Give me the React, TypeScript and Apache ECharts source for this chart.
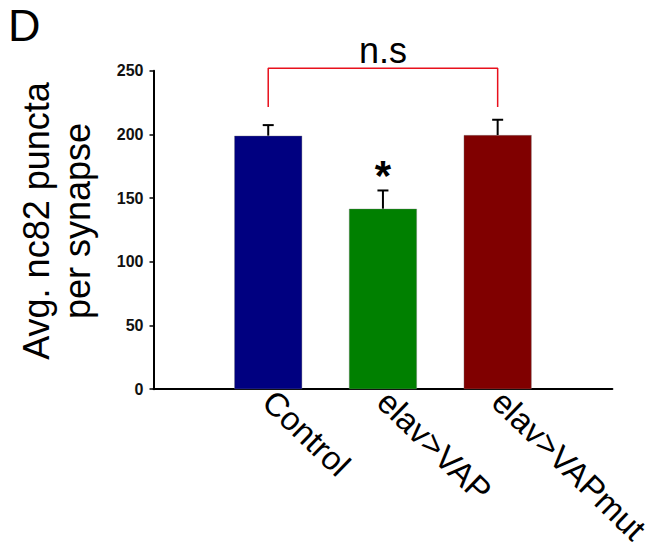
import React, { useEffect, useRef } from "react";
import * as echarts from "echarts";

const categories = ["", "Control", "elav>VAP", "elav>VAPmut", ""];
const groups = ["Control", "elav>VAP", "elav>VAPmut"];
const means = [199, 141.7, 199.5];
const errors = [8.3, 14.3, 12];
const barColors = ["#000080", "#008000", "#800000"];
const yMin = 0;
const yMax = 250;
const yInterval = 50;
const bracketLow = 221.6;
const bracketHigh = 252;
const bracketFrom = "Control";
const bracketTo = "elav>VAPmut";
const nsLabel = "n.s";
const sigGroup = "elav>VAP";
const sigLabel = "*";
const panelLetter = "D";
const yTitle = "Avg. nc82 puncta\nper synapse";

const FONT = "'Liberation Sans', Arial, Helvetica, sans-serif";

export default function App() {
  const ref = useRef<HTMLDivElement>(null);
  useEffect(() => {
    if (!ref.current) return;
    const chart = echarts.init(ref.current, undefined, { renderer: "svg" });
    const barData = categories.map((c) => {
      const i = groups.indexOf(c);
      if (i < 0 || c === "") return "-";
      return { value: means[i], itemStyle: { color: barColors[i] } };
    });
    const sigIdx = groups.indexOf(sigGroup);
    const midGroup = groups[Math.floor(groups.length / 2)];
    chart.setOption({
      animation: false,
      backgroundColor: "#ffffff",
      textStyle: { fontFamily: FONT },
      grid: { left: 153.5, right: 39, top: 70.7, bottom: 157.3, containLabel: false },
      xAxis: {
        type: "category",
        data: categories,
        boundaryGap: false,
        axisLine: { show: true, lineStyle: { color: "#000", width: 2 } },
        axisTick: { show: false },
        axisLabel: {
          interval: 0,
          rotate: -44,
          margin: 7,
          fontSize: 33,
          color: "#000",
          fontFamily: FONT,
        },
        splitLine: { show: false },
      },
      yAxis: {
        type: "value",
        min: yMin,
        max: yMax,
        interval: yInterval,
        axisLine: { show: true, lineStyle: { color: "#000", width: 2 } },
        axisTick: { show: true, length: 4, inside: false, lineStyle: { color: "#000", width: 1.5 } },
        axisLabel: { fontSize: 16, fontWeight: "bold", color: "#111", margin: 10, fontFamily: FONT },
        splitLine: { show: false },
      },
      series: [
        {
          type: "bar",
          data: barData,
          barWidth: 68,
          itemStyle: { borderColor: "rgba(120,120,120,0.6)", borderWidth: 0.6 },
        },
        {
          type: "custom",
          data: groups.map((g, i) => [g, means[i], errors[i]]),
          encode: { x: 0, y: 1 },
          renderItem: (_params: any, api: any) => {
            const x = api.value(0);
            const m = api.value(1);
            const e = api.value(2);
            const base = api.coord([x, m]);
            const top = api.coord([x, m + e]);
            const half = 5.5;
            return {
              type: "group",
              children: [
                {
                  type: "line",
                  shape: { x1: base[0], y1: base[1], x2: top[0], y2: top[1] },
                  style: { stroke: "#000", lineWidth: 2 },
                },
                {
                  type: "line",
                  shape: { x1: top[0] - half, y1: top[1], x2: top[0] + half, y2: top[1] },
                  style: { stroke: "#000", lineWidth: 2 },
                },
              ],
            };
          },
          z: 3,
        },
        {
          type: "line",
          data: [
            [bracketFrom, bracketLow],
            [bracketFrom, bracketHigh],
            [bracketTo, bracketHigh],
            [bracketTo, bracketLow],
          ],
          symbol: "none",
          clip: false,
          lineStyle: { color: "#e8101c", width: 1.5 },
          z: 4,
        },
        {
          type: "scatter",
          clip: false,
          symbolSize: 0,
          itemStyle: { opacity: 1 },
          data: [[midGroup, bracketHigh]],
          label: {
            show: true,
            position: "top",
            distance: 0,
            formatter: nsLabel,
            fontSize: 36,
            color: "#000",
            opacity: 1,
            fontFamily: FONT,
          },
          z: 5,
        },
        {
          type: "scatter",
          clip: false,
          symbolSize: 0,
          itemStyle: { opacity: 1 },
          data: [[sigGroup, means[sigIdx] + errors[sigIdx]]],
          label: {
            show: true,
            position: "top",
            distance: 0,
            offset: [0, 6],
            formatter: sigLabel,
            fontSize: 42,
            fontWeight: "bold",
            color: "#000",
            opacity: 1,
            fontFamily: FONT,
          },
          z: 5,
        },
      ],
      graphic: [
        {
          type: "text",
          left: 8,
          top: 3,
          style: { text: panelLetter, fontSize: 45, lineHeight: 40, fill: "#000", fontFamily: FONT },
        },
        {
          type: "text",
          x: 57,
          y: 221,
          rotation: Math.PI / 2,
          style: {
            text: yTitle,
            fontSize: 36,
            lineHeight: 41,
            fill: "#000",
            fontFamily: FONT,
            align: "center",
            verticalAlign: "middle",
          },
        },
      ],
    });
    return () => chart.dispose();
  }, []);
  return (
    <div
      ref={ref}
      style={{ position: "fixed", left: 0, top: 0, width: 654, height: 548, background: "#fff" }}
    />
  );
}
